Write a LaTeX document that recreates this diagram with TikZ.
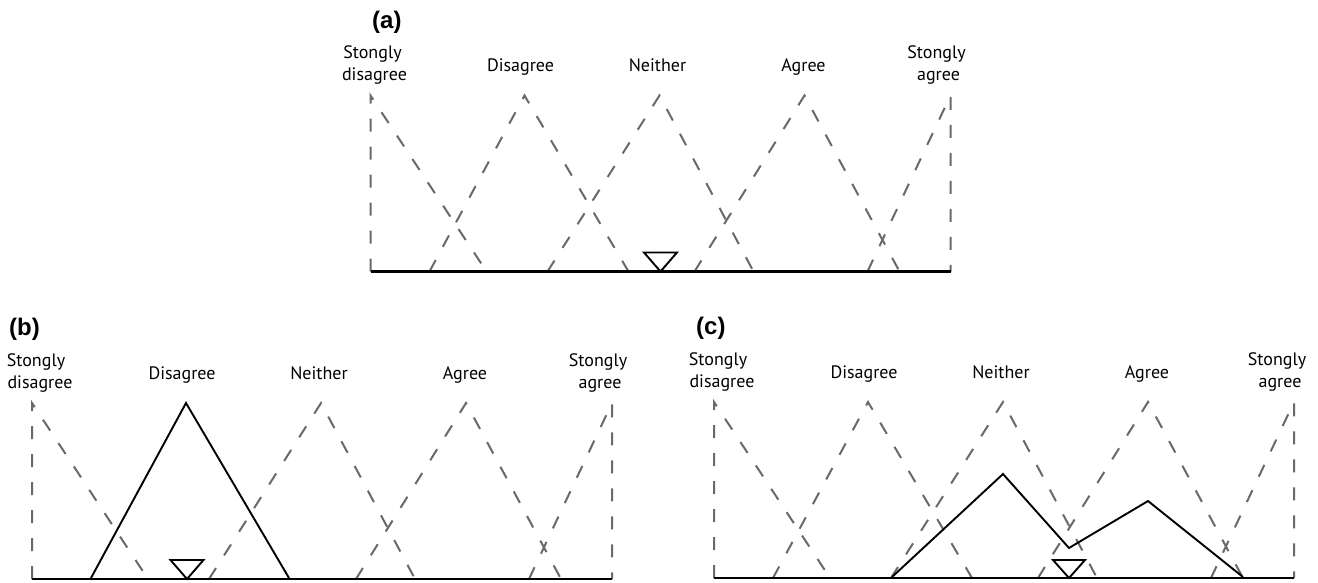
\documentclass[tikz,border=0pt]{standalone}
\usepackage{fontspec}
\setmainfont{PT Sans}
\newfontfamily\panelfont{Liberation Sans}
\definecolor{dgray}{RGB}{105,105,105}
\begin{document}
\begin{tikzpicture}[x=1pt,y=-1pt,
  dsh/.style={draw=dgray, line width=2pt, dash pattern=on 13pt off 15pt},
  solidline/.style={draw=black, line width=1.9pt, line join=miter},
  axisline/.style={draw=black, line width=2.4pt},
  markertri/.style={draw=black, line width=1.9pt, line join=miter},
  lab/.style={font=\fontsize{18}{21}\selectfont, inner sep=0pt, anchor=base},
  plab/.style={font=\panelfont\bfseries\fontsize{24}{27}\selectfont, inner sep=0pt, anchor=base west}]
\useasboundingbox (0,0) rectangle (1318,582);

% ---------- panel (a) ----------
\begin{scope}[shift={(370.5,271.5)}]
  \draw[dsh] (0,0) -- (0,-176) -- (116,0);
  \draw[dsh] (59,0) -- (154,-176) -- (258,0);
  \draw[dsh] (177,0) -- (289,-176) -- (383,0);
  \draw[dsh] (324,0) -- (434,-176) -- (529,0);
  \draw[dsh] (497,0) -- (580,-176) -- (580,0);
  \draw[axisline] (0,0) -- (580,0);
  \draw[markertri] (290,0) -- ++(-16.5,-19) -- ++(33,0) -- cycle;
  \node[plab] (a-title) at (1.5,-243) {(a)};
  \node[lab] (a-sd1) at (2,-213) {Stongly};
  \node[lab] (a-sd2) at (4,-191) {disagree};
  \node[lab] (a-d) at (150,-200) {Disagree};
  \node[lab] (a-n) at (287,-200) {Neither};
  \node[lab] (a-a) at (433,-200) {Agree};
  \node[lab] (a-sa1) at (566,-213) {Stongly};
  \node[lab] (a-sa2) at (568,-191) {agree};
\end{scope}

% ---------- panel (b) ----------
\begin{scope}[shift={(32,579)}]
  \draw[dsh] (0,0) -- (0,-176) -- (116,0);
  \draw[dsh] (177,0) -- (289,-176) -- (383,0);
  \draw[dsh] (324,0) -- (434,-176) -- (529,0);
  \draw[dsh] (497,0) -- (580,-176) -- (580,0);
  \draw[solidline] (59,-1) -- (154,-176) -- (257,-1);
  \draw[axisline] (0,0) -- (580,0);
  \draw[markertri] (155,0) -- ++(-16.5,-19) -- ++(33,0) -- cycle;
  \node[plab] (b-title) at (-23,-244) {(b)};
  \node[lab] (b-sd1) at (4,-213) {Stongly};
  \node[lab] (b-sd2) at (8,-191) {disagree};
  \node[lab] (b-d) at (150,-200) {Disagree};
  \node[lab] (b-n) at (287,-200) {Neither};
  \node[lab] (b-a) at (433,-200) {Agree};
  \node[lab] (b-sa1) at (566,-213) {Stongly};
  \node[lab] (b-sa2) at (568,-191) {agree};
\end{scope}

% ---------- panel (c) ----------
\begin{scope}[shift={(714,578)}]
  \draw[dsh] (0,0) -- (0,-176) -- (116,0);
  \draw[dsh] (59,0) -- (154,-176) -- (258,0);
  \draw[dsh] (177,0) -- (289,-176) -- (383,0);
  \draw[dsh] (324,0) -- (434,-176) -- (529,0);
  \draw[dsh] (497,0) -- (580,-176) -- (580,0);
  \draw[solidline] (178,-1) -- (289,-104) -- (355,-30) -- (434,-77) -- (529,-1);
  \draw[axisline] (0,0) -- (580,0);
  \draw[markertri] (355,0) -- ++(-16,-18) -- ++(32,0) -- cycle;
  \node[plab] (c-title) at (-18,-244) {(c)};
  \node[lab] (c-sd1) at (4,-213) {Stongly};
  \node[lab] (c-sd2) at (8,-191) {disagree};
  \node[lab] (c-d) at (150,-200) {Disagree};
  \node[lab] (c-n) at (287,-200) {Neither};
  \node[lab] (c-a) at (433,-200) {Agree};
  \node[lab] (c-sa1) at (563,-213) {Stongly};
  \node[lab] (c-sa2) at (566,-191) {agree};
\end{scope}
\end{tikzpicture}
\end{document}
